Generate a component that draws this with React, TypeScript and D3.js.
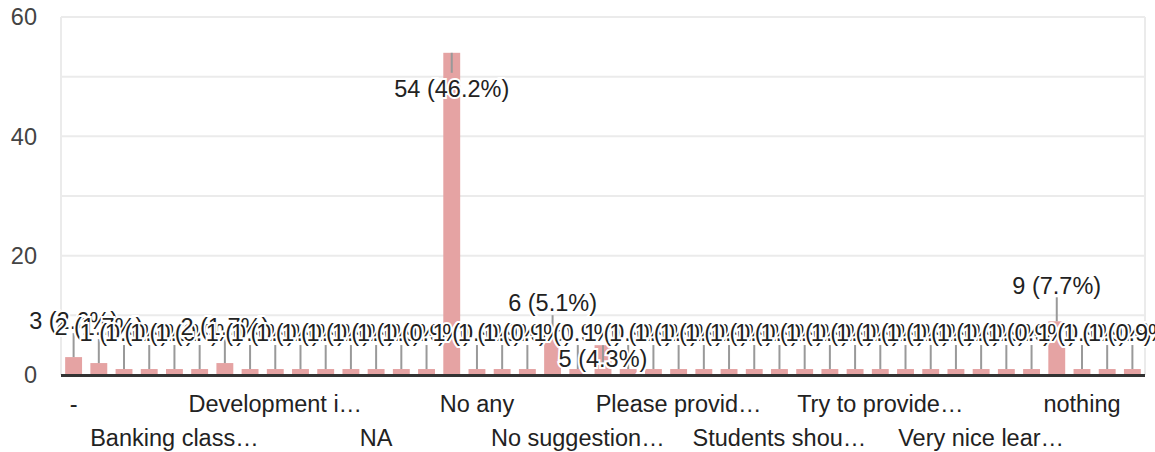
import { useEffect, useRef } from "react";
import * as d3 from "d3";

// answers, sorted the way the form summary sorts them
const categories = [
    "-", "All good", "Already good", "Awesome",
    "Banking class…", "Better", "Classes are…", "Conduct more…",
    "Development i…", "Good", "It was good", "Keep it up",
    "NA", "Na", "Nil", "No",
    "No any", "No comments", "No idea", "No suggestion",
    "No suggestion…", "Nothing", "Ok", "Online classes…",
    "Please provid…", "Practical…", "Provide more…", "Should…",
    "Students shou…", "Teaching is good", "Thank you", "The course…",
    "Try to provide…", "Very good", "Very helpful", "Very informative",
    "Very nice lear…", "Well done", "na", "no",
    "nothing", "nothing.", "ok",
];

const counts = [
    3, 2, 1, 1,
    1, 1, 2, 1,
    1, 1, 1, 1,
    1, 1, 1, 54,
    1, 1, 1, 6,
    1, 5, 1, 1,
    1, 1, 1, 1,
    1, 1, 1, 1,
    1, 1, 1, 1,
    1, 1, 1, 9,
    1, 1, 1,
];

const yTickLabels = [0, 20, 40, 60];
const gridValues = [0, 10, 20, 30, 40, 50, 60];
// answers whose label google pushed down into / below the bar top
const labelsInside = ["No", "Nothing"];

const width = 1155;
const height = 452;
const marginLeft = 61;
const marginRight = 10;
const marginTop = 17;
const marginBottom = 77;
const font = "Arial, 'Liberation Sans', sans-serif";

const App = () => {
    const svgRef = useRef<SVGSVGElement>(null);

    useEffect(() => {
        if (!svgRef.current) return;
        const svg = d3.select(svgRef.current);
        const total = d3.sum(counts);

        const x = d3
            .scaleBand<string>()
            .domain(categories)
            .range([marginLeft, width - marginRight])
            .paddingInner(0.33)
            .paddingOuter(0.165);

        const y = d3
            .scaleLinear()
            .domain([0, 60])
            .range([height - marginBottom, marginTop]);

        const cx = (c: string) => (x(c) ?? 0) + x.bandwidth() / 2;

        // grid
        svg.append("g")
            .selectAll("line")
            .data(gridValues)
            .join("line")
            .attr("x1", marginLeft)
            .attr("x2", width - marginRight)
            .attr("y1", (d) => y(d))
            .attr("y2", (d) => y(d))
            .attr("stroke", "#ebebeb")
            .attr("stroke-width", 2);

        svg.append("g")
            .selectAll("line")
            .data([marginLeft, width - marginRight])
            .join("line")
            .attr("x1", (d) => d)
            .attr("x2", (d) => d)
            .attr("y1", y(60))
            .attr("y2", y(0))
            .attr("stroke", "#ebebeb")
            .attr("stroke-width", 2);

        // y labels
        svg.append("g")
            .selectAll("text")
            .data(yTickLabels)
            .join("text")
            .attr("x", 37)
            .attr("y", (d) => y(d))
            .attr("dy", "0.35em")
            .attr("text-anchor", "end")
            .attr("font-family", font)
            .attr("font-size", 23.5)
            .attr("fill", "#444")
            .text((d) => d);

        // bars
        svg.append("g")
            .selectAll("rect")
            .data(categories)
            .join("rect")
            .attr("x", (d) => x(d) ?? 0)
            .attr("width", x.bandwidth())
            .attr("y", (_, i) => y(counts[i]))
            .attr("height", (_, i) => y(0) - y(counts[i]))
            .attr("fill", "#e5a3a3");

        // baseline
        svg.append("line")
            .attr("x1", marginLeft)
            .attr("x2", width - marginRight)
            .attr("y1", y(0) + 0.5)
            .attr("y2", y(0) + 0.5)
            .attr("stroke", "#333")
            .attr("stroke-width", 3);

        // annotation stems
        svg.append("g")
            .selectAll("line")
            .data(categories)
            .join("line")
            .attr("x1", (d) => cx(d))
            .attr("x2", (d) => cx(d))
            .attr("y1", (_, i) => y(counts[i]))
            .attr("y2", (d, i) =>
                labelsInside.includes(d) ? y(counts[i]) + 20 : y(counts[i]) - 24
            )
            .attr("stroke", "#999")
            .attr("stroke-width", 2);

        // annotation labels, later ones on top
        svg.append("g")
            .selectAll("text")
            .data(categories)
            .join("text")
            .attr("x", (d) => cx(d))
            .attr("y", (d, i) =>
                labelsInside.includes(d)
                    ? Math.min(y(counts[i]) + 36, y(0) - 16)
                    : y(counts[i]) - 36
            )
            .attr("dy", "0.35em")
            .attr("text-anchor", "middle")
            .attr("font-family", font)
            .attr("font-size", 23.5)
            .attr("fill", "#222")
            .attr("stroke", "#fff")
            .attr("stroke-width", 4)
            .attr("paint-order", "stroke")
            .text((_, i) => `${counts[i]} (${((counts[i] / total) * 100).toFixed(1)}%)`);

        // category labels, every 4th, on two staggered rows
        svg.append("g")
            .selectAll("text")
            .data(categories.filter((_, i) => i % 4 === 0))
            .join("text")
            .attr("x", (d) => cx(d))
            .attr("y", (_, j) => (j % 2 === 0 ? 404 : 438))
            .attr("dy", "0.35em")
            .attr("text-anchor", "middle")
            .attr("font-family", font)
            .attr("font-size", 23.5)
            .attr("fill", "#222")
            .text((d) => d);

        return () => {
            svg.selectAll("*").remove();
        };
    }, []);

    return (
        <svg
            ref={svgRef}
            width={width}
            height={height}
            style={{ position: "absolute", left: 0, top: 0, background: "#fff" }}
        />
    );
};

export default App;
